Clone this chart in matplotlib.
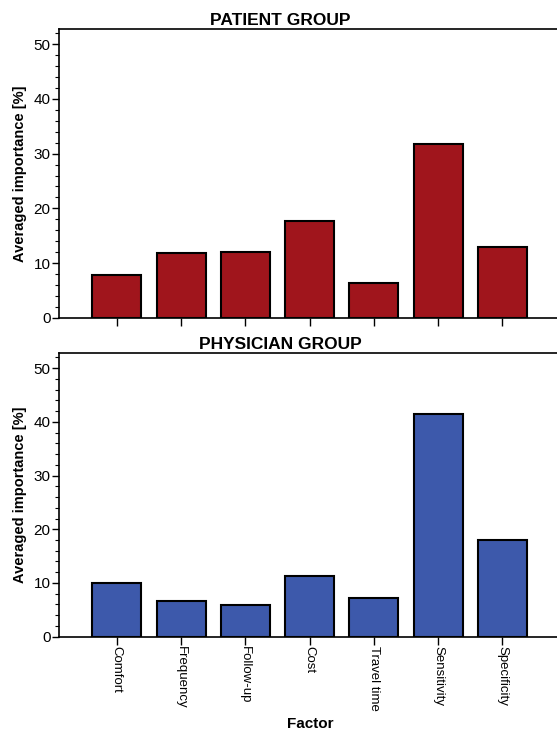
import matplotlib
matplotlib.use("Agg")
import matplotlib.pyplot as plt
from matplotlib.ticker import MultipleLocator

plt.rcParams['font.family'] = ['Liberation Sans', 'DejaVu Sans']

factors = ["Comfort", "Frequency", "Follow-up", "Cost", "Travel time", "Sensitivity", "Specificity"]
patient_importance = [7.8, 11.8, 12.0, 17.7, 6.4, 31.8, 13.0]
physician_importance = [10.0, 6.7, 5.9, 11.3, 7.2, 41.5, 18.0]

RED = "#A0151C"
BLUE = "#3D59AB"

fig = plt.figure(figsize=(5.57, 7.31), dpi=100)
ax_top = fig.add_axes([0.106, 0.565, 0.894, 0.395])
ax_bot = fig.add_axes([0.106, 0.129, 0.894, 0.388])


def style_panel(ax, values, color, title, ymax):
    x = range(len(values))
    ax.bar(x, values, width=0.76, color=color, edgecolor="black", linewidth=1.5)
    ax.set_xlim(-0.9, 6.85)
    ax.set_ylim(0, ymax)
    ax.yaxis.set_major_locator(MultipleLocator(10))
    ax.yaxis.set_minor_locator(MultipleLocator(2))
    ax.tick_params(axis="y", which="major", length=5, width=1.0, labelsize=11, pad=1)
    ax.tick_params(axis="y", which="minor", length=3, width=0.8)
    ax.tick_params(axis="x", length=6, width=1.0)
    ax.set_xticks(list(x))
    for side in ("left", "top", "bottom"):
        ax.spines[side].set_linewidth(1.2)
    ax.spines["right"].set_visible(False)
    ax.set_ylabel("Averaged importance [%]", fontsize=10.5, fontweight="bold", labelpad=5)
    ax.set_title(title, fontsize=12.5, fontweight="bold", pad=3, x=0.445)


style_panel(ax_top, patient_importance, RED, "PATIENT GROUP", 52.7)
ax_top.set_xticklabels([])

style_panel(ax_bot, physician_importance, BLUE, "PHYSICIAN GROUP", 52.8)
ax_bot.set_xticklabels(factors, rotation=-90, fontsize=9.5)
ax_bot.tick_params(axis="x", pad=1)
ax_bot.set_xlabel("Factor", fontsize=11, fontweight="bold", x=0.505, labelpad=4)

fig.savefig("out.png", dpi=100)
